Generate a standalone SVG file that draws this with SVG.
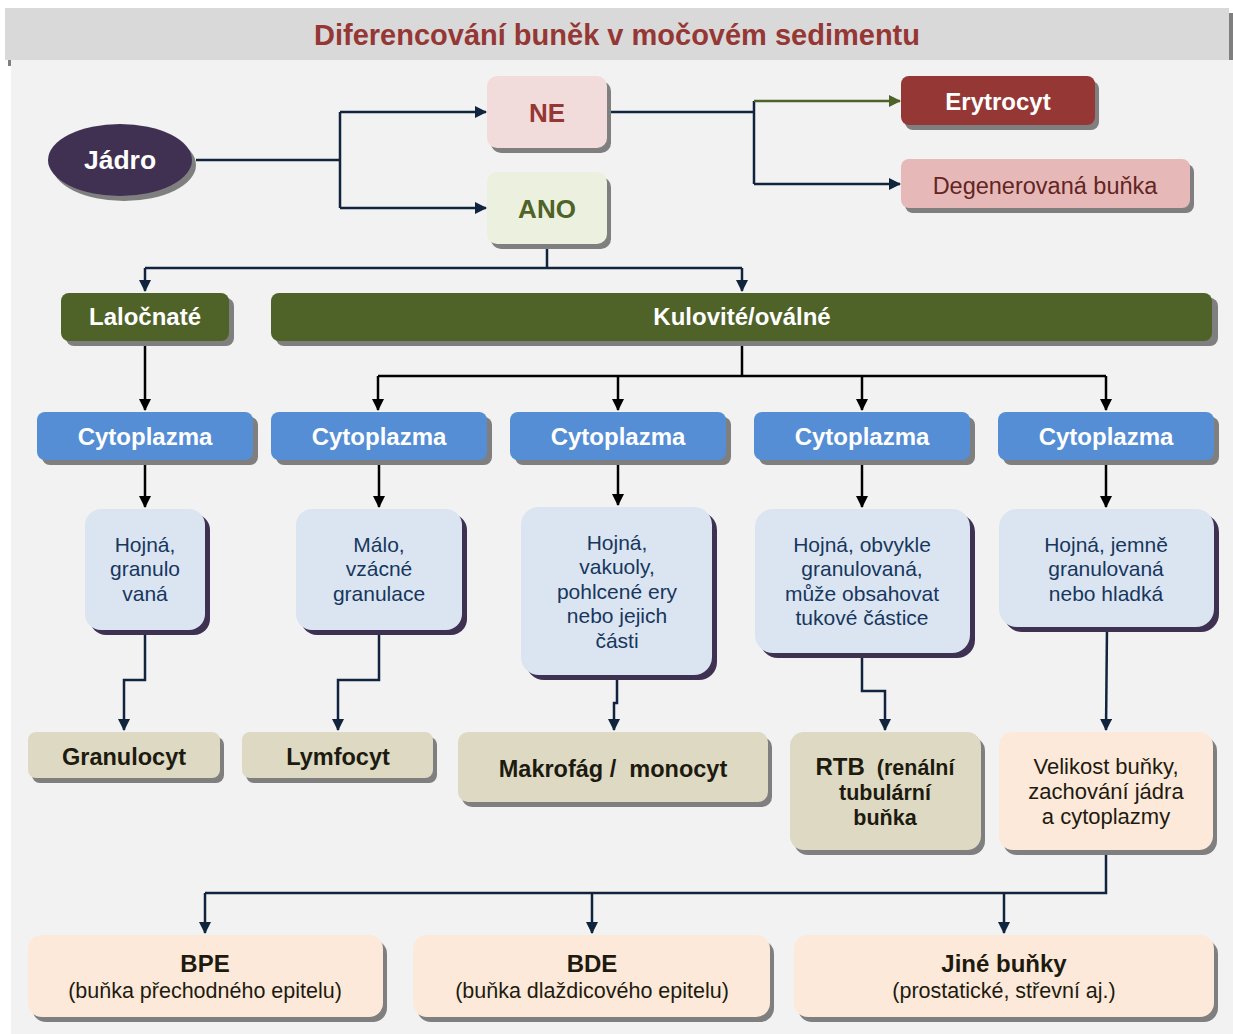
<svg xmlns="http://www.w3.org/2000/svg" width="1233" height="1034" viewBox="0 0 1233 1034">
<defs>
<style>
text{font-family:"Liberation Sans",Arial,sans-serif;text-anchor:middle;white-space:pre}
.b{font-weight:bold}
.sh{fill:#7f7f7f}
.shp{fill:#3f3151}
.nv{fill:none;stroke:#10243e;stroke-width:2.5}
.bk{fill:none;stroke:#000;stroke-width:2.5}
.gr{fill:none;stroke:#4f6228;stroke-width:2.5}
.cyt{fill:#558ed5}
.cyt-t{fill:#fff;font-weight:bold;font-size:24px}
.desc{fill:#dbe5f1}
.desc-t{fill:#17375e;font-size:21px}
.res{fill:#ddd9c3}
.res-t{fill:#1d1b10;font-weight:bold;font-size:23.5px}
.pe{fill:#fde9d9}
.pe-t{fill:#1d1b10;font-size:21.5px}
</style>
<marker id="an" markerUnits="userSpaceOnUse" markerWidth="12" markerHeight="12" viewBox="0 0 12 12" refX="11" refY="6" orient="auto"><path d="M0,0 L12,6 L0,12 z" fill="#10243e"/></marker>
<marker id="ab" markerUnits="userSpaceOnUse" markerWidth="12" markerHeight="12" viewBox="0 0 12 12" refX="11" refY="6" orient="auto"><path d="M0,0 L12,6 L0,12 z" fill="#000"/></marker>
<marker id="ag" markerUnits="userSpaceOnUse" markerWidth="12" markerHeight="12" viewBox="0 0 12 12" refX="11" refY="6" orient="auto"><path d="M0,0 L12,6 L0,12 z" fill="#4f6228"/></marker>
</defs>

<rect x="0" y="0" width="1233" height="1034" fill="#fff"/>
<rect x="11" y="60" width="1222" height="974" fill="#f2f2f2"/>
<rect x="1229" y="13" width="4" height="47" fill="#7f7f7f"/>
<rect x="8" y="60" width="3" height="6" fill="#7f7f7f"/>
<rect x="5" y="8" width="1224" height="52" fill="#d9d9d9"/>
<text x="617" y="45" class="b" style="font-size:29px;fill:#953735">Diferencování buněk v močovém sedimentu</text>

<g id="connectors">
<path class="nv" d="M196,160 H340 M340,112 V208"/>
<path class="nv" d="M340,112 H486" marker-end="url(#an)"/>
<path class="nv" d="M340,208 H486" marker-end="url(#an)"/>
<path class="nv" d="M607,112 H754 M754,101 V184"/>
<path class="gr" d="M754,101 H900" marker-end="url(#ag)"/>
<path class="nv" d="M754,184 H900" marker-end="url(#an)"/>
<path class="nv" d="M547,244 V268 M145,268 H742"/>
<path class="nv" d="M145,268 V291" marker-end="url(#an)"/>
<path class="nv" d="M742,268 V291" marker-end="url(#an)"/>
<path class="bk" d="M145,341 V410" marker-end="url(#ab)"/>
<path class="bk" d="M742,341 V376 M378,376 H1106"/>
<path class="bk" d="M378,376 V410" marker-end="url(#ab)"/>
<path class="bk" d="M618,376 V410" marker-end="url(#ab)"/>
<path class="bk" d="M862,376 V410" marker-end="url(#ab)"/>
<path class="bk" d="M1106,376 V410" marker-end="url(#ab)"/>
<path class="bk" d="M145,460 V507" marker-end="url(#ab)"/>
<path class="bk" d="M379,460 V507" marker-end="url(#ab)"/>
<path class="bk" d="M618,460 V505" marker-end="url(#ab)"/>
<path class="bk" d="M862,460 V507" marker-end="url(#ab)"/>
<path class="bk" d="M1106,460 V507" marker-end="url(#ab)"/>
<path class="nv" d="M145,630 V680 H124 V730" marker-end="url(#an)"/>
<path class="nv" d="M379,630 V680 H338 V730" marker-end="url(#an)"/>
<path class="nv" d="M617,675 V703 H614 V730" marker-end="url(#an)"/>
<path class="nv" d="M862,653 V691 H885 V730" marker-end="url(#an)"/>
<path class="nv" d="M1107,627 L1106,730" marker-end="url(#an)"/>
<path class="nv" d="M1106,850 V893 H205"/>
<path class="nv" d="M205,893 V933" marker-end="url(#an)"/>
<path class="nv" d="M592,893 V933" marker-end="url(#an)"/>
<path class="nv" d="M1004,893 V933" marker-end="url(#an)"/>
</g>

<g id="jadro">
<ellipse cx="124" cy="165" rx="72" ry="36" class="sh"/>
<ellipse cx="120" cy="160" rx="72" ry="36" fill="#403152"/>
<text x="120" y="169" class="b" style="font-size:26.5px;fill:#fff">Jádro</text>
</g>
<g id="ne">
<rect x="491" y="81" width="120" height="72" rx="10" class="sh"/>
<rect x="487" y="76" width="120" height="72" rx="10" fill="#f2dcdb"/>
<text x="547" y="122" class="b" style="font-size:26px;fill:#953735">NE</text>
</g>
<g id="ano">
<rect x="491" y="177" width="120" height="72" rx="10" class="sh"/>
<rect x="487" y="172" width="120" height="72" rx="10" fill="#ebf1de"/>
<text x="547" y="218" class="b" style="font-size:26px;fill:#4f6228">ANO</text>
</g>
<g id="erytrocyt">
<rect x="905" y="81" width="194" height="49" rx="8" class="sh"/>
<rect x="901" y="76" width="194" height="49" rx="8" fill="#953735"/>
<text x="998" y="110" class="b" style="font-size:24px;fill:#fff">Erytrocyt</text>
</g>
<g id="degenerovana">
<rect x="905" y="164" width="289" height="49" rx="8" class="sh"/>
<rect x="901" y="159" width="289" height="49" rx="8" fill="#e6b9b8"/>
<text x="1045" y="194" style="font-size:23.5px;fill:#632523">Degenerovaná buňka</text>
</g>
<g id="lalocnate">
<rect x="66" y="298" width="168" height="48" rx="8" class="sh"/>
<rect x="61" y="293" width="168" height="48" rx="8" fill="#4f6228"/>
<text x="145" y="325" class="b" style="font-size:24px;fill:#fff">Laločnaté</text>
</g>
<g id="kulovite">
<rect x="276" y="298" width="942" height="48" rx="8" class="sh"/>
<rect x="271" y="293" width="941" height="48" rx="8" fill="#4f6228"/>
<text x="742" y="325" class="b" style="font-size:24px;fill:#fff">Kulovité/oválné</text>
</g>

<g id="cyt1"><rect x="42" y="417" width="216" height="48" rx="8" class="sh"/><rect x="37" y="412" width="216" height="48" rx="8" class="cyt"/><text x="145" y="445" class="cyt-t">Cytoplazma</text></g>
<g id="cyt2"><rect x="276" y="417" width="216" height="48" rx="8" class="sh"/><rect x="271" y="412" width="216" height="48" rx="8" class="cyt"/><text x="379" y="445" class="cyt-t">Cytoplazma</text></g>
<g id="cyt3"><rect x="515" y="417" width="216" height="48" rx="8" class="sh"/><rect x="510" y="412" width="216" height="48" rx="8" class="cyt"/><text x="618" y="445" class="cyt-t">Cytoplazma</text></g>
<g id="cyt4"><rect x="759" y="417" width="216" height="48" rx="8" class="sh"/><rect x="754" y="412" width="216" height="48" rx="8" class="cyt"/><text x="862" y="445" class="cyt-t">Cytoplazma</text></g>
<g id="cyt5"><rect x="1003" y="417" width="216" height="48" rx="8" class="sh"/><rect x="998" y="412" width="216" height="48" rx="8" class="cyt"/><text x="1106" y="445" class="cyt-t">Cytoplazma</text></g>

<g id="desc1"><rect x="90" y="514" width="120" height="121" rx="16" class="shp"/><rect x="85" y="509" width="120" height="121" rx="16" class="desc"/>
<text class="desc-t"><tspan x="145" y="552">Hojná,</tspan><tspan x="145" y="576">granulo</tspan><tspan x="145" y="601">vaná</tspan></text></g>
<g id="desc2"><rect x="301" y="514" width="166" height="121" rx="16" class="shp"/><rect x="296" y="509" width="166" height="121" rx="16" class="desc"/>
<text class="desc-t"><tspan x="379" y="552">Málo,</tspan><tspan x="379" y="576">vzácné</tspan><tspan x="379" y="601">granulace</tspan></text></g>
<g id="desc3"><rect x="526" y="512" width="191" height="168" rx="18" class="shp"/><rect x="521" y="507" width="191" height="168" rx="18" class="desc"/>
<text class="desc-t"><tspan x="617" y="550">Hojná,</tspan><tspan x="617" y="574">vakuoly,</tspan><tspan x="617" y="599">pohlcené ery</tspan><tspan x="617" y="623">nebo jejich</tspan><tspan x="617" y="648">části</tspan></text></g>
<g id="desc4"><rect x="760" y="514" width="215" height="144" rx="18" class="shp"/><rect x="755" y="509" width="215" height="144" rx="18" class="desc"/>
<text class="desc-t"><tspan x="862" y="552">Hojná, obvykle</tspan><tspan x="862" y="576">granulovaná,</tspan><tspan x="862" y="601">může obsahovat</tspan><tspan x="862" y="625">tukové částice</tspan></text></g>
<g id="desc5"><rect x="1004" y="514" width="215" height="118" rx="18" class="shp"/><rect x="999" y="509" width="215" height="118" rx="18" class="desc"/>
<text class="desc-t"><tspan x="1106" y="552">Hojná, jemně</tspan><tspan x="1106" y="576">granulovaná</tspan><tspan x="1106" y="601">nebo hladká</tspan></text></g>

<g id="granulocyt"><rect x="32" y="737" width="192" height="46" rx="8" class="sh"/><rect x="28" y="732" width="192" height="46" rx="8" class="res"/><text x="124" y="765" class="res-t">Granulocyt</text></g>
<g id="lymfocyt"><rect x="246" y="737" width="191" height="46" rx="8" class="sh"/><rect x="242" y="732" width="191" height="46" rx="8" class="res"/><text x="338" y="765" class="res-t">Lymfocyt</text></g>
<g id="makrofag"><rect x="462" y="737" width="310" height="70" rx="10" class="sh"/><rect x="458" y="732" width="310" height="70" rx="10" class="res"/><text x="613" y="777" class="res-t">Makrofág /  monocyt</text></g>
<g id="rtb"><rect x="794" y="737" width="191" height="118" rx="14" class="sh"/><rect x="790" y="732" width="191" height="118" rx="14" class="res"/>
<text class="res-t" style="font-size:21.5px"><tspan x="885" y="775"><tspan style="font-size:24px">RTB</tspan>  (renální</tspan><tspan x="885" y="800">tubulární</tspan><tspan x="885" y="825">buňka</tspan></text></g>
<g id="velikost"><rect x="1003" y="737" width="214" height="118" rx="14" class="sh"/><rect x="999" y="732" width="214" height="118" rx="14" class="pe"/>
<text class="pe-t" style="font-size:22px"><tspan x="1106" y="774">Velikost buňky,</tspan><tspan x="1106" y="799">zachování jádra</tspan><tspan x="1106" y="824">a cytoplazmy</tspan></text></g>

<g id="bpe"><rect x="32" y="940" width="355" height="82" rx="14" class="sh"/><rect x="28" y="935" width="355" height="82" rx="14" class="pe"/>
<text x="205" y="972" class="pe-t b" style="font-size:24px">BPE</text><text x="205" y="998" class="pe-t">(buňka přechodného epitelu)</text></g>
<g id="bde"><rect x="417" y="940" width="357" height="82" rx="14" class="sh"/><rect x="413" y="935" width="357" height="82" rx="14" class="pe"/>
<text x="592" y="972" class="pe-t b" style="font-size:24px">BDE</text><text x="592" y="998" class="pe-t">(buňka dlaždicového epitelu)</text></g>
<g id="jine"><rect x="798" y="940" width="420" height="82" rx="14" class="sh"/><rect x="794" y="935" width="420" height="82" rx="14" class="pe"/>
<text x="1004" y="972" class="pe-t b" style="font-size:24px">Jiné buňky</text><text x="1004" y="998" class="pe-t">(prostatické, střevní aj.)</text></g>
</svg>
